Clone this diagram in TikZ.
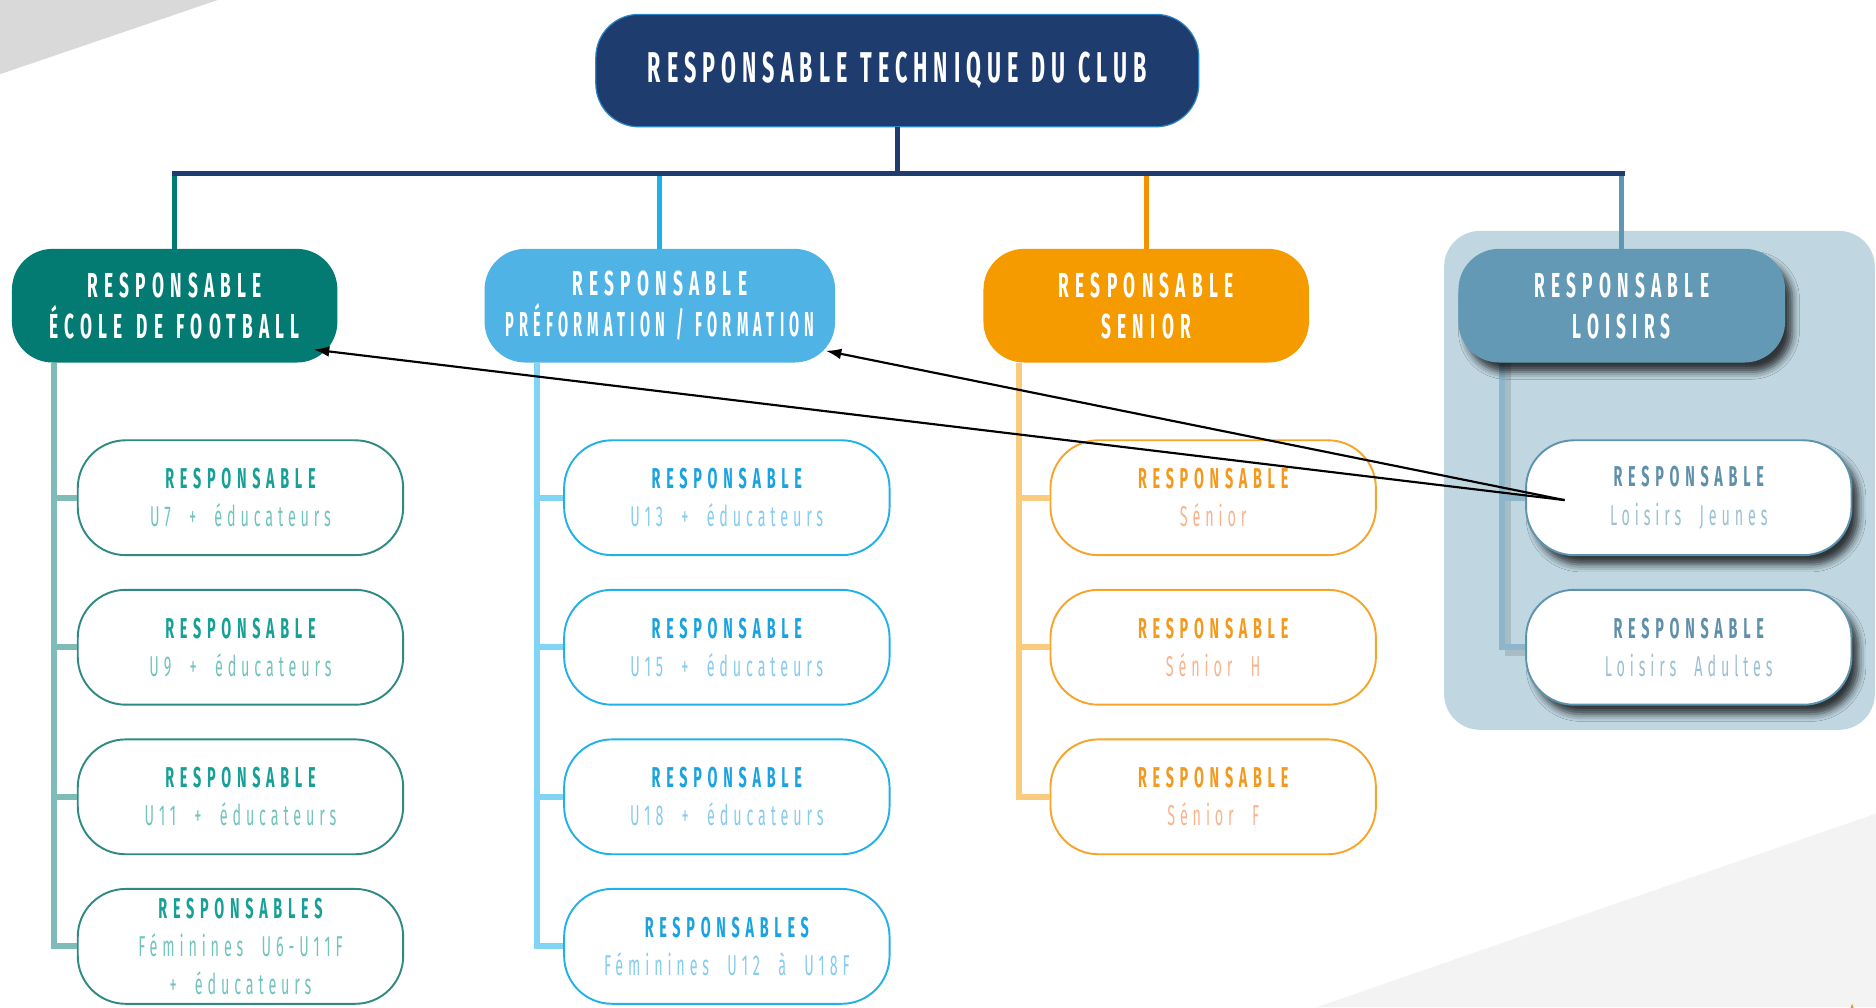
\documentclass[tikz,border=0pt]{standalone}
\usepackage{fontspec}
\setmainfont{Fira Sans}
\newfontfamily\tfont[FakeStretch=0.5,LetterSpace=14,WordSpace=1.15]{Fira Sans}
\newfontfamily\hfont[FakeStretch=0.5,LetterSpace=18,WordSpace=1.3]{Fira Sans}
\newfontfamily\bfont[FakeStretch=0.5,LetterSpace=20]{Fira Sans}
\newfontfamily\sfont[FakeStretch=0.5,LetterSpace=17,WordSpace=2.1]{Fira Sans}
\usetikzlibrary{arrows.meta,shadows,shadows.blur,shapes.geometric}
\definecolor{navy}{HTML}{1F3C6F}
\definecolor{navyedge}{HTML}{2A86C8}
\definecolor{gFill}{HTML}{037B73}
\definecolor{gLine}{HTML}{7FBCB8}
\definecolor{gEdge}{HTML}{2E8A82}
\definecolor{gT}{HTML}{17A096}
\definecolor{gS}{HTML}{72C4BD}
\definecolor{bFill}{HTML}{50B3E5}
\definecolor{bDrop}{HTML}{1CB1E8}
\definecolor{bLine}{HTML}{80D4F4}
\definecolor{bEdge}{HTML}{22B0E8}
\definecolor{bT}{HTML}{1AA3E0}
\definecolor{bS}{HTML}{86CCF1}
\definecolor{oFill}{HTML}{F59B00}
\definecolor{oDrop}{HTML}{F39200}
\definecolor{oLine}{HTML}{FBCB7D}
\definecolor{oEdge}{HTML}{F7A42A}
\definecolor{oT}{HTML}{F39A1E}
\definecolor{oS}{HTML}{F9B48C}
\definecolor{lFill}{HTML}{6399B5}
\definecolor{lDrop}{HTML}{5F96B4}
\definecolor{lPanel}{HTML}{C0D7E2}
\definecolor{lLine}{HTML}{8DB6CB}
\definecolor{lEdge}{HTML}{5E93AF}
\definecolor{lT}{HTML}{5E8FAB}
\definecolor{lS}{HTML}{9CC0D4}
\definecolor{grayA}{HTML}{D9D9D9}
\definecolor{grayB}{HTML}{F3F3F3}
\definecolor{gold}{HTML}{C9A227}
\newcommand\roleline[2]{\textcolor{#1}{\bfont\bfseries #2}}
\newcommand\subline[2]{\textcolor{#1}{\sfont #2}}
\begin{document}
\begin{tikzpicture}[x=1pt,y=-1pt,
  topbox/.style={rectangle, rounded corners=36pt, minimum width=504pt, minimum height=94pt,
    fill=navy, draw=navyedge, line width=1pt, text=white, inner sep=0pt,
    font=\tfont\bfseries\fontsize{36}{40}\selectfont},
  lvltwo/.style={rectangle, rounded corners=34pt, minimum height=95pt, text=white,
    align=center, inner sep=0pt, font=\hfont\bfseries\fontsize{29}{34}\selectfont},
  lvlthree/.style={rectangle, rounded corners=40pt, minimum width=272pt, minimum height=96pt,
    fill=white, line width=1.6pt, align=center, inner sep=0pt,
    font=\fontsize{24}{32}\selectfont},
  lshadow/.style={blur shadow={shadow xshift=6pt, shadow yshift=-8pt, shadow blur radius=6pt, shadow opacity=75}},
  bar/.style={line width=4pt},
  side/.style={line width=5pt},
  arr/.style={line width=1.8pt, -{Latex[length=13pt,width=9pt]}}
]
\useasboundingbox (0,0) rectangle (1568,842);
\fill[white] (0,0) rectangle (1568,842);
% background decorations
\fill[grayA] (0,0) -- (182,0) -- (0,62) -- cycle;
\fill[grayB] (1100,842) -- (1568,680) -- (1568,842) -- cycle;
\node[star, star points=5, star point ratio=2.4, fill=gold, minimum size=18pt, inner sep=0pt] (star) at (1548,848) {};
% loisirs panel
\fill[lPanel, rounded corners=30pt] (1207,193) rectangle (1567,610);

% top node
\node[topbox] (top) at (750,59) {RESPONSABLE TECHNIQUE DU CLUB};

% level 2
\node[lvltwo, fill=gFill, minimum width=272pt] (ecole) at (146,255.5) {RESPONSABLE\\ÉCOLE DE FOOTBALL};
\node[lvltwo, fill=bFill, minimum width=293pt] (pref) at (551.5,255.5) {RESPONSABLE\\\scalebox{0.84}[1]{PRÉFORMATION / FORMATION}};
\node[lvltwo, fill=oFill, minimum width=272pt] (senior) at (958,255.5) {RESPONSABLE\\SENIOR};

% bar and drops
\coordinate (barL) at (146,145);
\coordinate (barR) at (1356,145);
\draw[bar, navy] (top.south) -- (top.south |- barL);
\draw[bar, gFill] (ecole.north) -- (ecole.north |- barL);
\draw[bar, bDrop] (pref.north) -- (pref.north |- barL);
\draw[bar, oDrop] (senior.north) -- (senior.north |- barL);
\draw[bar, lDrop] (1355.5,208) -- (1355.5,145);
\draw[bar, navy, line cap=rect] (barL) -- (barR);

% loisirs side line
\coordinate (ltop) at (1255,303);
\coordinate (lb1) at (1275,416);
\coordinate (lb2) at (1275,541);
\draw[side, black, opacity=0.12] ([xshift=5pt]ltop) -- ([xshift=5pt,yshift=-5pt]ltop |- lb2) -- ([yshift=-5pt]lb2);
\draw[side, lLine] (ltop) |- (lb1);
\draw[side, lLine] (ltop) |- (lb2);

% level 3 : green
\node[lvlthree, draw=gEdge] (u7) at (201,416) {\roleline{gT}{RESPONSABLE}\\\subline{gS}{U7 + éducateurs}};
\node[lvlthree, draw=gEdge] (u9) at (201,541) {\roleline{gT}{RESPONSABLE}\\\subline{gS}{U9 + éducateurs}};
\node[lvlthree, draw=gEdge] (u11) at (201,666) {\roleline{gT}{RESPONSABLE}\\\subline{gS}{U11 + éducateurs}};
\node[lvlthree, draw=gEdge] (fem1) at (201,791) {\roleline{gT}{RESPONSABLES}\\\subline{gS}{Féminines U6-U11F}\\\subline{gS}{+ éducateurs}};
% level 3 : blue
\node[lvlthree, draw=bEdge] (u13) at (607.5,416) {\roleline{bT}{RESPONSABLE}\\\subline{bS}{U13 + éducateurs}};
\node[lvlthree, draw=bEdge] (u15) at (607.5,541) {\roleline{bT}{RESPONSABLE}\\\subline{bS}{U15 + éducateurs}};
\node[lvlthree, draw=bEdge] (u18) at (607.5,666) {\roleline{bT}{RESPONSABLE}\\\subline{bS}{U18 + éducateurs}};
\node[lvlthree, draw=bEdge] (fem2) at (607.5,791) {\roleline{bT}{RESPONSABLES}\\\subline{bS}{Féminines U12 à U18F}};
% level 3 : orange
\node[lvlthree, draw=oEdge] (sen) at (1014,416) {\roleline{oT}{RESPONSABLE}\\\subline{oS}{Sénior}};
\node[lvlthree, draw=oEdge] (senh) at (1014,541) {\roleline{oT}{RESPONSABLE}\\\subline{oS}{Sénior H}};
\node[lvlthree, draw=oEdge] (senf) at (1014,666) {\roleline{oT}{RESPONSABLE}\\\subline{oS}{Sénior F}};

% side connectors
\coordinate (gtop) at (45,303);
\coordinate (btop) at (449,303);
\coordinate (otop) at (852,303);
\foreach \n in {u7,u9,u11,fem1} \draw[side, gLine] (gtop) |- (\n.west);
\foreach \n in {u13,u15,u18,fem2} \draw[side, bLine] (btop) |- (\n.west);
\foreach \n in {sen,senh,senf} \draw[side, oLine] (otop) |- (\n.west);

% loisirs nodes
\node[lvltwo, fill=lFill, minimum width=273pt, lshadow] (loisirs) at (1355.5,255.5) {RESPONSABLE\\LOISIRS};
\node[lvlthree, draw=lEdge, lshadow] (jeunes) at (1411.5,416) {\roleline{lT}{RESPONSABLE}\\\subline{lS}{Loisirs Jeunes}};
\node[lvlthree, draw=lEdge, lshadow] (adultes) at (1411.5,541) {\roleline{lT}{RESPONSABLE}\\\subline{lS}{Loisirs Adultes}};

% arrows
\coordinate (src) at ([xshift=33pt,yshift=-2pt]jeunes.west);
\draw[arr] (src) -- ([xshift=-20pt,yshift=11pt]ecole.south east);
\draw[arr] (src) -- ([xshift=-8pt,yshift=10pt]pref.south east);
\end{tikzpicture}
\end{document}
